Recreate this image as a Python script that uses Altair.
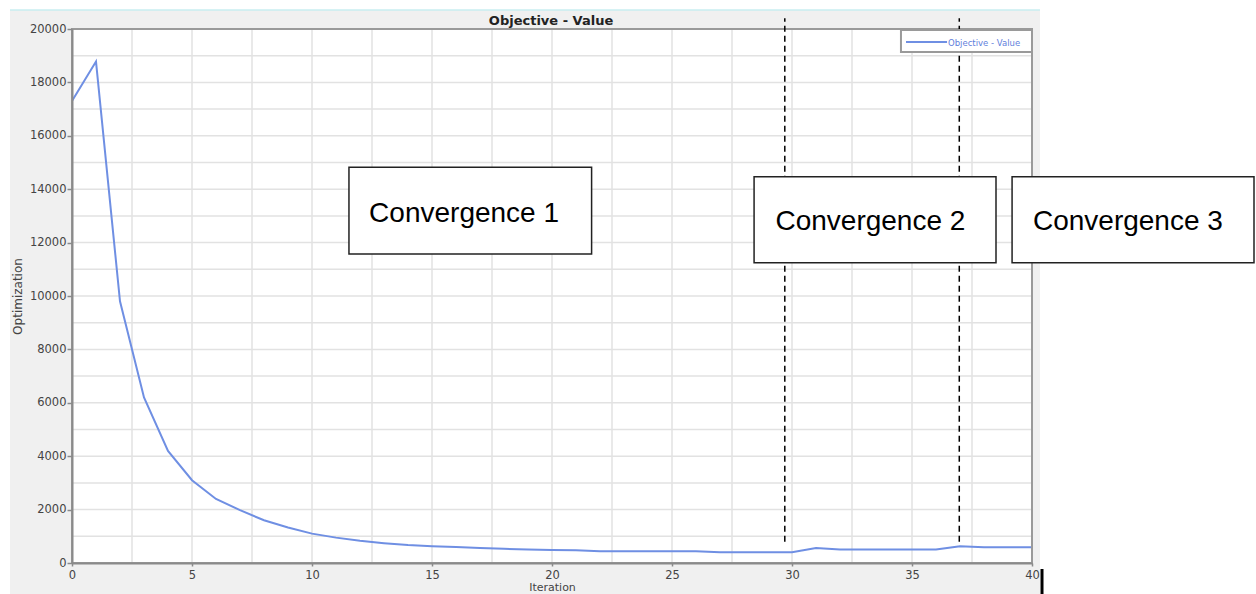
import altair as alt
import pandas as pd

# ---- data ----
iterations = list(range(41))
values = [17300, 18780, 9800, 6200, 4200, 3100, 2400, 1980, 1600, 1330,
          1100, 950, 830, 740, 670, 630, 600, 560, 530, 510,
          490, 480, 440, 440, 440, 440, 440, 400, 400, 400,
          400, 560, 510, 510, 510, 510, 510, 630, 590, 590, 590]
series_name = "Objective - Value"

x_ticks = [0, 5, 10, 15, 20, 25, 30, 35, 40]
y_ticks = [0, 2000, 4000, 6000, 8000, 10000, 12000, 14000, 16000, 18000, 20000]
x_grid = [0, 2.5, 5, 7.5, 10, 12.5, 15, 17.5, 20, 22.5, 25, 27.5, 30, 32.5, 35, 37.5, 40]
y_grid = [0, 1000, 2000, 3000, 4000, 5000, 6000, 7000, 8000, 9000, 10000,
          11000, 12000, 13000, 14000, 15000, 16000, 17000, 18000, 19000, 20000]

convergence_iter = [29.7, 36.97]
box_labels = ["Convergence 1", "Convergence 2", "Convergence 3"]

# ---- annotation geometry (data coordinates) ----
box_x = [11.54, 28.42, 39.17]
box_x2 = [21.65, 38.5, 49.25]
box_y = [11573, 11247, 11247]
box_y2 = [14820, 14468, 14468]
box_tx = [12.38, 29.31, 40.04]
box_ty = [12783, 12472, 12472]

xs = alt.Scale(domain=[0, 40], nice=False, zero=False)
ys = alt.Scale(domain=[0, 20000], nice=False, zero=False)

LINE_COLOR = "#6f8fe3"

x_axis = alt.Axis(
    values=x_ticks, title="Iteration", grid=False,
    domainColor="#8a8a8a", domainWidth=2,
    tickColor="#8a8a8a", tickSize=3, tickWidth=1.5,
    labelFont="DejaVu Sans", labelFontSize=11.5, labelColor="#444",
    labelPadding=3, labelFlush=False, labelOverlap=False,
    titleFont="DejaVu Sans", titleFontSize=11, titleFontWeight="normal",
    titleColor="#444", titlePadding=1, zindex=1,
)
y_axis = alt.Axis(
    values=y_ticks, format="d", title="Optimization", grid=False,
    domainColor="#8a8a8a", domainWidth=2,
    tickColor="#8a8a8a", tickSize=5, tickWidth=1.5,
    labelFont="DejaVu Sans", labelFontSize=11.5, labelColor="#444",
    labelPadding=1, labelFlush=False, labelOverlap=False,
    titleFont="DejaVu Sans", titleFontSize=12, titleFontWeight="normal",
    titleColor="#444", titlePadding=5, zindex=1,
)


def qx(f):
    return alt.X(f, type="quantitative", scale=xs, axis=x_axis)


def qy(f):
    return alt.Y(f, type="quantitative", scale=ys, axis=y_axis)


def one(**kw):
    return pd.DataFrame([kw])


# gray panel behind everything
panel = alt.Chart(one(x=-2.583, x2=40.333, y=-1161, y2=20710)).mark_rect(
    color="#f0f0f0"
).encode(x=qx("x"), x2="x2", y=qy("y"), y2="y2")

panel_top = alt.Chart(one(x=-2.583, x2=40.333, y=20710)).mark_rule(
    color="#c9eef0", strokeWidth=1.5
).encode(x=qx("x"), x2="x2", y=qy("y"))

plot_bg = alt.Chart(one(x=0, x2=40, y=0, y2=20000)).mark_rect(
    color="white"
).encode(x=qx("x"), x2="x2", y=qy("y"), y2="y2")

vgrid = alt.Chart(pd.DataFrame({"g": x_grid, "lo": 0, "hi": 20000})).mark_rule(
    color="#e2e2e2", strokeWidth=1.5
).encode(x=qx("g"), y=qy("lo"), y2="hi")

hgrid = alt.Chart(pd.DataFrame({"g": y_grid, "lo": 0, "hi": 40})).mark_rule(
    color="#e2e2e2", strokeWidth=1.5
).encode(y=qy("g"), x=qx("lo"), x2="hi")

line_df = pd.DataFrame({"Iteration": iterations, "Optimization": values})
line = alt.Chart(line_df).mark_line(color=LINE_COLOR, strokeWidth=2).encode(
    x=qx("Iteration"), y=qy("Optimization")
)

frame = alt.Chart(one(x=0, x2=40, y=0, y2=20000)).mark_rect(
    fillOpacity=0, stroke="#9a9a9a", strokeWidth=2
).encode(x=qx("x"), x2="x2", y=qy("y"), y2="y2")

dashed = alt.Chart(pd.DataFrame({"it": convergence_iter, "lo": [800, 800], "hi": [20400, 20400]})).mark_rule(
    color="black", strokeWidth=1.5, strokeDash=[6, 4]
).encode(x=qx("it"), y=qy("lo"), y2="hi")

# legend (drawn as marks)
leg_box = alt.Chart(one(x=34.54, x2=40.0, y=19138, y2=19962)).mark_rect(
    fill="white", stroke="#9a9a9a", strokeWidth=2
).encode(x=qx("x"), x2="x2", y=qy("y"), y2="y2")
leg_line = alt.Chart(one(x=34.75, x2=36.46, y=19513)).mark_rule(
    color=LINE_COLOR, strokeWidth=2
).encode(x=qx("x"), x2="x2", y=qy("y"))
leg_text = alt.Chart(one(x=36.5, y=19382, t=series_name)).mark_text(
    align="left", baseline="alphabetic", font="DejaVu Sans", fontSize=8.5, color="#5f80dc"
).encode(x=qx("x"), y=qy("y"), text="t:N")

boxes_df = pd.DataFrame({
    "x": box_x, "x2": box_x2, "y": box_y, "y2": box_y2,
    "tx": box_tx, "ty": box_ty, "label": box_labels,
})
boxes = alt.Chart(boxes_df).mark_rect(
    fill="white", stroke="#222", strokeWidth=1.5
).encode(x=qx("x"), x2="x2", y=qy("y"), y2="y2")
box_text = alt.Chart(boxes_df).mark_text(
    align="left", baseline="alphabetic", font="Liberation Sans", fontSize=28, color="black"
).encode(x=qx("tx"), y=qy("ty"), text="label:N")

title = alt.Chart(one(x=19.96, y=20150, t="Objective - Value")).mark_text(
    align="center", baseline="alphabetic", font="DejaVu Sans", fontSize=13,
    fontWeight="bold", color="#222"
).encode(x=qx("x"), y=qy("y"), text="t:N")

cursor = alt.Chart(one(x=40.417, y=-225, y2=-1161)).mark_rule(
    color="black", strokeWidth=3
).encode(x=qx("x"), y=qy("y"), y2="y2")

chart = alt.layer(
    panel, panel_top, plot_bg, vgrid, hgrid, line, frame, dashed,
    leg_box, leg_line, leg_text, boxes, box_text, title, cursor,
).properties(
    width=960,
    height=534,
    autosize=alt.AutoSizeParams(type="none"),
    padding={"left": 72, "top": 29, "right": 224, "bottom": 31},
).configure_view(stroke=None).configure(background="white")

chart.save("out.html", embed_options={"renderer": "svg", "actions": False})
